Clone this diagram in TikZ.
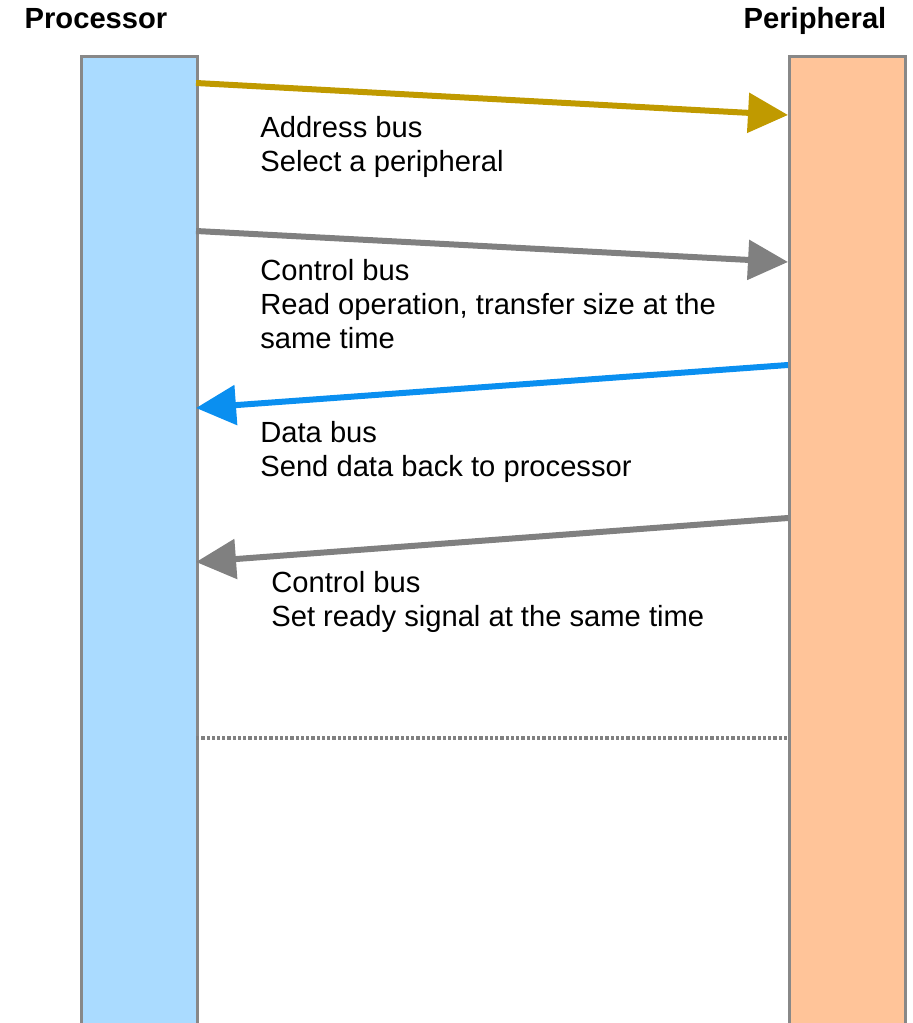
\documentclass[tikz,border=0pt]{standalone}
\usepackage{fontspec}
\setmainfont{Liberation Sans}
\usetikzlibrary{arrows.meta}

\definecolor{procblue}{HTML}{AADBFF}
\definecolor{periorange}{HTML}{FFC499}
\definecolor{bargray}{HTML}{888888}
\definecolor{addrgold}{HTML}{C09A00}
\definecolor{ctrlgray}{HTML}{808080}
\definecolor{datablue}{HTML}{0A8FF0}

\begin{document}
\begin{tikzpicture}[x=0.02cm, y=-0.02cm,
    bar/.style={draw=bargray, line width=0.06cm, anchor=north west, inner sep=0pt,
        minimum width=2.32cm, minimum height=20.4cm},
    title/.style={font=\fontsize{16.6pt}{19.3pt}\selectfont\bfseries, inner sep=0pt, anchor=base},
    label/.style={font=\fontsize{16.6pt}{19.3pt}\selectfont, align=left, anchor=north west, inner sep=0pt},
    bus/.style={line width=0.12cm, -{Triangle[length=0.8cm, width=0.78cm]}}]
    \clip (0,0) rectangle (912,1023);

    % Lifelines
    \node[bar, fill=procblue] (proc) at (80,55) {};
    \node[bar, fill=periorange] (peri) at (788,55) {};
    \node[title] (proctitle) at (96,29) {Processor};
    \node[title] (perititle) at (815,29) {Peripheral};

    % Ends of the bus arrows
    \coordinate (addrA) at (196,83);
    \coordinate (addrB) at (788,115);
    \coordinate (ctrlA) at (196,231);
    \coordinate (ctrlB) at (788,262);
    \coordinate (dataA) at (788,365);
    \coordinate (dataB) at (196,408);
    \coordinate (rdyA) at (788,518);
    \coordinate (rdyB) at (196,562);
    \coordinate (endA) at (196,738);
    \coordinate (endB) at (788,738);

    % Bus transfers
    \draw[bus, addrgold] (addrA) -- (addrB);
    \node[label] (addrtext) at (260,116) {Address bus\\Select a peripheral};

    \draw[bus, ctrlgray] (ctrlA) -- (ctrlB);
    \node[label] (ctrltext) at (260,259) {Control bus\\Read operation, transfer size at the\\same time};

    \draw[bus, datablue] (dataA) -- (dataB);
    \node[label] (datatext) at (260,421) {Data bus\\Send data back to processor};

    \draw[bus, ctrlgray] (rdyA) -- (rdyB);
    \node[label] (rdytext) at (271,571) {Control bus\\Set ready signal at the same time};

    % End of transfer
    \draw[ctrlgray, line width=0.065cm, dash pattern=on 0.065cm off 0.04cm] (endA) -- (endB);
\end{tikzpicture}
\end{document}
